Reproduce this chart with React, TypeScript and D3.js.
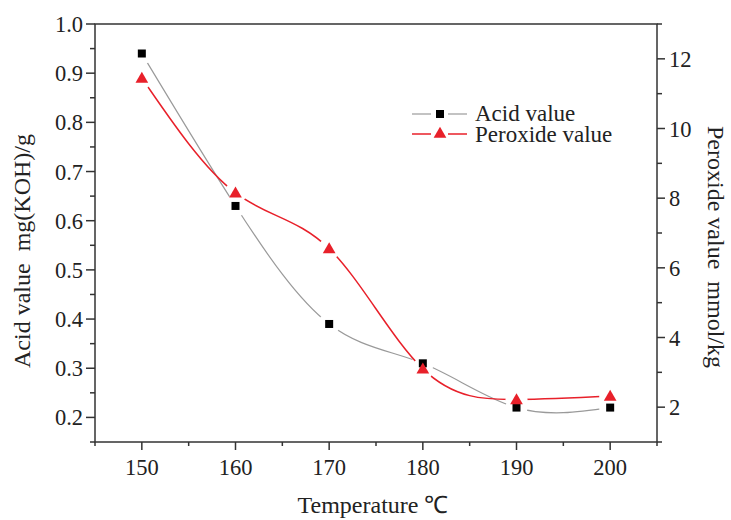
import React from 'react';
import * as d3 from 'd3';

const temperatures = [150, 160, 170, 180, 190, 200];
const acidValues = [0.94, 0.63, 0.39, 0.31, 0.22, 0.22];
const peroxideValues = [11.45, 8.15, 6.55, 3.1, 2.22, 2.32];
const xTicks = [150, 160, 170, 180, 190, 200];
const leftTicks = [0.2, 0.3, 0.4, 0.5, 0.6, 0.7, 0.8, 0.9, 1.0];
const rightTicks = [2, 4, 6, 8, 10, 12];

const W = 731;
const H = 520;
const left = 95, right = 657, top = 24, bottom = 442;
const FONT = '"Liberation Serif", "Times New Roman", serif';
const RED = '#e8202a';

const App: React.FC = () => {
    const x = d3.scaleLinear().domain([145, 205]).range([left, right]);
    const yL = d3.scaleLinear().domain([0.15, 1.0]).range([bottom, top]);
    const yR = d3.scaleLinear().domain([1, 13]).range([bottom, top]);

    const acidLine = d3.line<number>()
        .x((_, i) => x(temperatures[i]))
        .y(d => yL(d))
        .curve(d3.curveNatural);
    const peroxLine = d3.line<number>()
        .x((_, i) => x(temperatures[i]))
        .y(d => yR(d))
        .curve(d3.curveNatural);

    const tri = d3.symbol().type(d3.symbolTriangle).size(70)() || '';
    const gap = 11;

    // minor ticks at half steps
    const xMinor = d3.range(145, 206, 5).filter(v => v % 10 !== 0);
    const lMinor = d3.range(0.15, 1.0, 0.1);
    const rMinor = d3.range(1, 14, 2);

    const axisColor = '#333';
    const textColor = '#222';

    return (
        <svg width={W} height={H} style={{ position: 'absolute', left: 0, top: 0, background: '#fff' }}>
            <defs>
                <mask id="acid-mask" maskUnits="userSpaceOnUse" x="0" y="0" width={W} height={H}>
                    <rect x="0" y="0" width={W} height={H} fill="white" />
                    {acidValues.map((v, i) => (
                        <circle key={i} cx={x(temperatures[i])} cy={yL(v)} r={gap} fill="black" />
                    ))}
                </mask>
                <mask id="perox-mask" maskUnits="userSpaceOnUse" x="0" y="0" width={W} height={H}>
                    <rect x="0" y="0" width={W} height={H} fill="white" />
                    {peroxideValues.map((v, i) => (
                        <circle key={i} cx={x(temperatures[i])} cy={yR(v)} r={gap} fill="black" />
                    ))}
                </mask>
            </defs>

            {/* frame */}
            <rect x={left} y={top} width={right - left} height={bottom - top} fill="none" stroke={axisColor} strokeWidth={1.5} />

            {/* ticks */}
            <g stroke={axisColor} strokeWidth={1.5}>
                {xTicks.map(t => <line key={t} x1={x(t)} x2={x(t)} y1={bottom} y2={bottom + 8} />)}
                {xMinor.map(t => <line key={t} x1={x(t)} x2={x(t)} y1={bottom} y2={bottom + 4} />)}
                {leftTicks.map(t => <line key={t} x1={left - 9} x2={left} y1={yL(t)} y2={yL(t)} />)}
                {lMinor.map(t => <line key={t} x1={left - 5} x2={left} y1={yL(t)} y2={yL(t)} />)}
                {rightTicks.map(t => <line key={t} x1={right} x2={right + 8} y1={yR(t)} y2={yR(t)} />)}
                {rMinor.map(t => <line key={t} x1={right} x2={right + 5} y1={yR(t)} y2={yR(t)} />)}
            </g>

            <g fontFamily={FONT} fontSize={22.5} fill={textColor}>
                {xTicks.map(t => (
                    <text key={t} x={x(t)} y={bottom + 33} textAnchor="middle">{t}</text>
                ))}
                {leftTicks.map(t => (
                    <text key={t} x={left - 12} y={yL(t) + 8} textAnchor="end">{t.toFixed(1)}</text>
                ))}
                {rightTicks.map(t => (
                    <text key={t} x={right + 12} y={yR(t) + 8} textAnchor="start">{t}</text>
                ))}
            </g>
            <g fontFamily={FONT} fontSize={24} fill={textColor}>
                <text x={373} y={513} textAnchor="middle">Temperature ℃</text>
                <text transform={`translate(30,251) rotate(-90)`} textAnchor="middle" xmlSpace="preserve">Acid value  mg(KOH)/g</text>
                <text transform={`translate(708,247) rotate(90)`} textAnchor="middle" xmlSpace="preserve">Peroxide value  mmol/kg</text>
            </g>

            {/* lines */}
            <path d={acidLine(acidValues) || ''} fill="none" stroke="#9a9a9a" strokeWidth={1.2} mask="url(#acid-mask)" />
            <path d={peroxLine(peroxideValues) || ''} fill="none" stroke={RED} strokeWidth={1.5} mask="url(#perox-mask)" />

            {/* markers */}
            {acidValues.map((v, i) => (
                <rect key={i} x={x(temperatures[i]) - 4} y={yL(v) - 4} width={8} height={8} fill="#000" />
            ))}
            {peroxideValues.map((v, i) => (
                <path key={i} d={tri} transform={`translate(${x(temperatures[i])},${yR(v) + 1})`} fill={RED} />
            ))}

            {/* legend */}
            <g fontFamily={FONT} fontSize={23} fill={textColor}>
                <line x1={412} x2={431} y1={114} y2={114} stroke="#9a9a9a" strokeWidth={1.2} />
                <line x1={448} x2={467} y1={114} y2={114} stroke="#9a9a9a" strokeWidth={1.2} />
                <rect x={436} y={110} width={8} height={8} fill="#000" />
                <text x={475} y={121}>Acid value</text>
                <line x1={412} x2={431} y1={134} y2={134} stroke={RED} strokeWidth={1.5} />
                <line x1={448} x2={467} y1={134} y2={134} stroke={RED} strokeWidth={1.5} />
                <path d={tri} transform={`translate(440,134)`} fill={RED} />
                <text x={475} y={142}>Peroxide value</text>
            </g>
        </svg>
    );
};

export default App;
